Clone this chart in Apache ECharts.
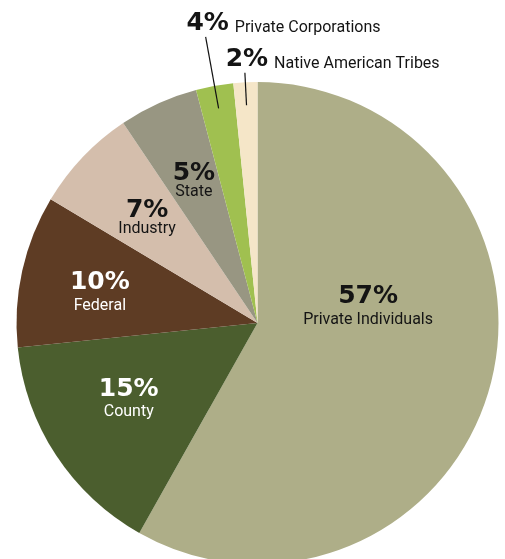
<!DOCTYPE html>
<html><head><meta charset="utf-8">
<script src="https://cdn.jsdelivr.net/npm/echarts@6/dist/echarts.min.js"></script>
<style>html,body{margin:0;padding:0;background:#fff}#c{width:505px;height:559px}</style>
</head><body><div id="c"></div>
<script>
// ---- data ----
const categories = ['Private Individuals', 'County', 'Federal', 'Industry', 'State', 'Private Corporations', 'Native American Tribes'];
const printedPct = ['57%', '15%', '10%', '7%', '5%', '4%', '2%'];
// slice sizes as drawn in the picture (share of the full circle)
const sliceShare = [58.1, 15.2, 10.2, 7.0, 5.3, 2.5, 1.6];
const colors = ['#aeae88', '#4b5e2e', '#5e3c24', '#d4beac', '#989682', '#a0c050', '#f5e6c8'];

// ---- layout / style config ----
const CENTER = [257.5, 323];
const RADIUS = 241;
const insideOffset = { 0: [-6, -47], 1: [-28, 10], 2: [-40, -4], 3: [-23, -22], 4: [-14, -32] };
const tightLabel = { 3: true, 4: true };
const leader = { 5: [0.905, 1.207], 6: [0.905, 1.04] };
const whiteText = { 1: true, 2: true };

const total = sliceShare.reduce((a, b) => a + b, 0);
function midAngle(i) {
  let before = 0;
  for (let k = 0; k < i; k++) before += sliceShare[k];
  return (before + sliceShare[i] / 2) / total * 360;
}
function polar(deg, r) {
  const a = deg * Math.PI / 180;
  return [CENTER[0] + r * Math.sin(a), CENTER[1] - r * Math.cos(a)];
}
const PCT_FONT = 'bold 25px "DejaVu Sans"';
const ctx = document.createElement('canvas').getContext('2d');
function measure(t) { ctx.font = PCT_FONT; return ctx.measureText(t).width; }

const DARK = '#141414';
const pctBase = { fontFamily: 'DejaVu Sans', fontWeight: 'bold', fontSize: 25 };
const nameBase = { fontFamily: 'Roboto', fontSize: 16 };
const rich = {
  p: Object.assign({}, pctBase, { lineHeight: 26, color: DARK }),
  n: Object.assign({}, nameBase, { lineHeight: 20, color: DARK }),
  pw: Object.assign({}, pctBase, { lineHeight: 26, color: '#ffffff' }),
  nw: Object.assign({}, nameBase, { lineHeight: 20, color: '#ffffff' }),
  pt: Object.assign({}, pctBase, { lineHeight: 22, color: DARK }),
  nt: Object.assign({}, nameBase, { lineHeight: 16, color: DARK }),
  po: Object.assign({}, pctBase, { lineHeight: 28, color: DARK, verticalAlign: 'bottom' }),
  no: Object.assign({}, nameBase, { lineHeight: 28, color: DARK, verticalAlign: 'bottom', padding: [0, 0, 0, 6] })
};

// bottom series: coloured slices
const sliceData = categories.map((name, i) => ({
  name, value: sliceShare[i], itemStyle: { color: colors[i] }
}));
// top series: same slices, transparent, carrying labels and leader lines (so lines draw above slices)
const labelData = categories.map((name, i) => {
  const out = !!leader[i];
  return {
    name,
    value: sliceShare[i],
    itemStyle: { color: 'rgba(0,0,0,0)' },
    label: out ? { position: 'outside', width: 280, overflow: 'none' } : { position: 'inside' },
    labelLine: { show: out }
  };
});

const common = {
  type: 'pie',
  center: CENTER,
  radius: RADIUS,
  startAngle: 90,
  clockwise: true,
  avoidLabelOverlap: false,
  silent: true,
  emphasis: { disabled: true },
  itemStyle: { borderWidth: 0 }
};

const chart = echarts.init(document.getElementById('c'), null, { renderer: 'canvas' });
chart.setOption({
  animation: false,
  backgroundColor: '#ffffff',
  series: [
    Object.assign({}, common, {
      z: 2,
      data: sliceData,
      label: { show: false },
      labelLine: { show: false }
    }),
    Object.assign({}, common, {
      z: 3,
      data: labelData,
      label: {
        show: true,
        position: 'outside',
        rich,
        formatter: (p) => {
          const i = p.dataIndex;
          if (leader[i]) return '{po|' + printedPct[i] + '}{no|' + categories[i] + '}';
          const s = whiteText[i] ? 'w' : (tightLabel[i] ? 't' : '');
          return '{p' + s + '|' + printedPct[i] + '}\n{n' + s + '|' + categories[i] + '}';
        }
      },
      labelLine: { show: false, lineStyle: { color: '#111111', width: 1.2, opacity: 1 } },
      labelLayout: (params) => {
        const i = params.dataIndex;
        const mid = midAngle(i);
        if (leader[i]) {
          const a = polar(mid, RADIUS * leader[i][0]);
          const b = polar(mid, RADIUS * leader[i][1]);
          const w = measure(printedPct[i]);
          return { x: b[0] - w / 2 + 2, y: b[1] - 1, align: 'left', verticalAlign: 'bottom', labelLinePoints: [a, b] };
        }
        const p = polar(mid, RADIUS / 2);
        const off = insideOffset[i];
        return { x: p[0] + off[0], y: p[1] + off[1], align: 'center', verticalAlign: 'middle' };
      }
    })
  ]
});
</script>
</body></html>
